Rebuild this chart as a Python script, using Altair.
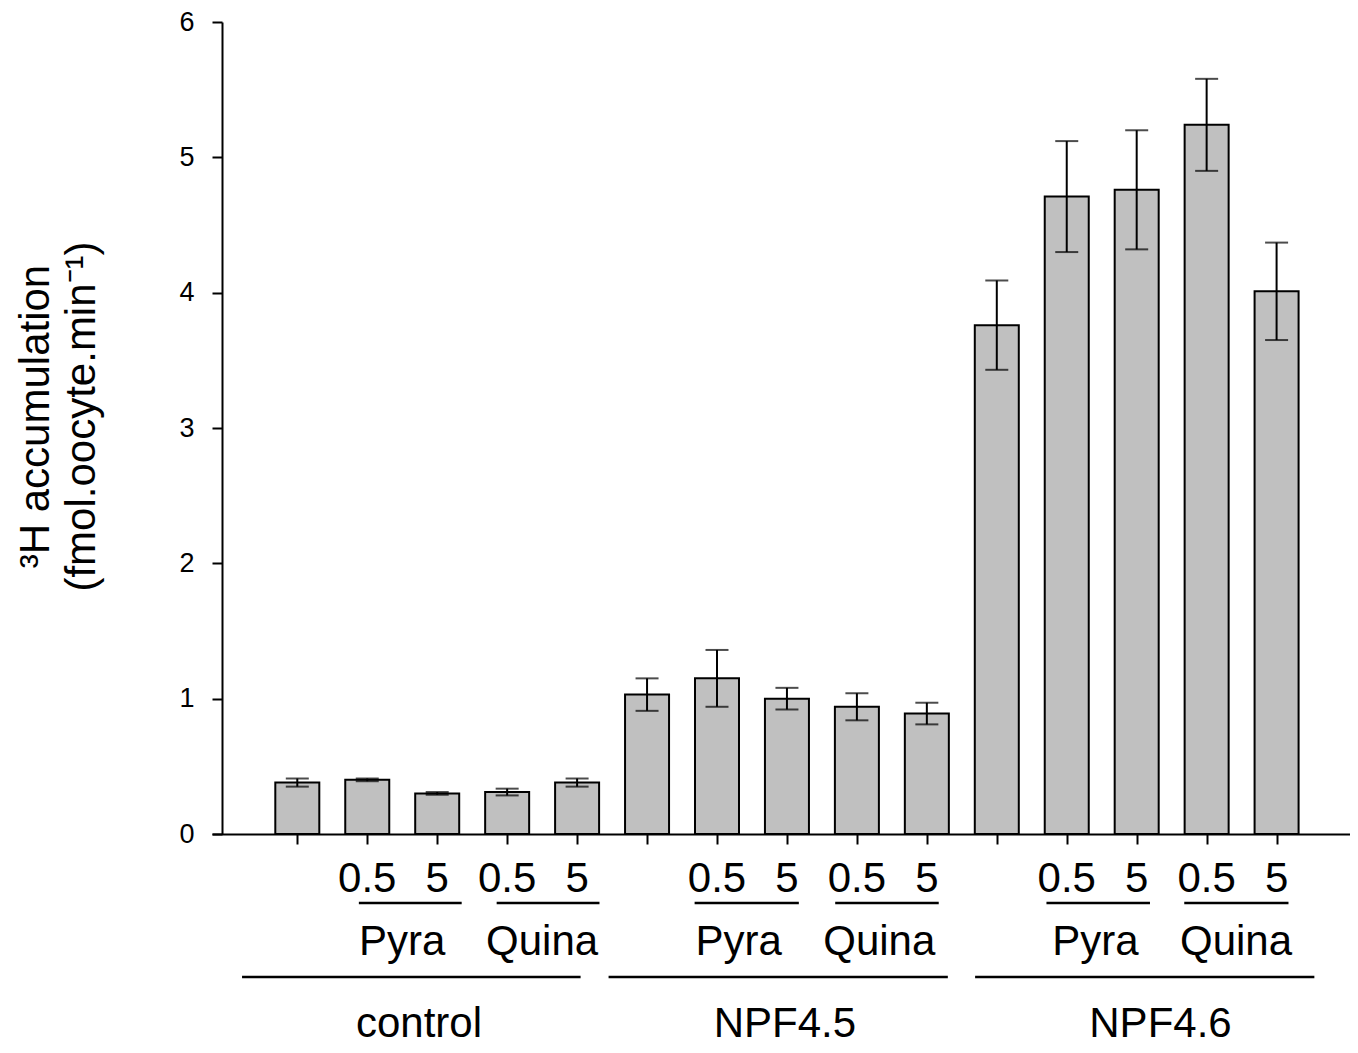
import altair as alt
import pandas as pd

# ---- data ----
positions = list(range(1, 16))
values = [0.38, 0.40, 0.30, 0.31, 0.38,
          1.03, 1.15, 1.00, 0.94, 0.89,
          3.76, 4.71, 4.76, 5.24, 4.01]
errors = [0.03, 0.01, 0.01, 0.025, 0.03,
          0.12, 0.21, 0.08, 0.10, 0.08,
          0.33, 0.41, 0.44, 0.34, 0.36]
conc_labels = ["", "0.5", "5", "0.5", "5",
               "", "0.5", "5", "0.5", "5",
               "", "0.5", "5", "0.5", "5"]

drug_names = ["Pyra", "Quina", "Pyra", "Quina", "Pyra", "Quina"]
drug_label_x = [2.50, 4.50, 7.31, 9.32, 12.41, 14.42]
drug_line_start = [1.88, 3.85, 6.68, 8.69, 11.71, 13.68]
drug_line_end = [3.35, 5.32, 8.17, 10.17, 13.19, 15.17]

group_names = ["control", "NPF4.5", "NPF4.6"]
group_label_x = [2.74, 7.97, 13.34]
group_line_start = [0.21, 5.45, 10.69]
group_line_end = [5.05, 10.30, 15.54]

y_ticks = [0, 1, 2, 3, 4, 5, 6]

FONT = "Liberation Sans"

bars_df = pd.DataFrame({
    "pos": positions,
    "value": values,
    "lo": [v - e for v, e in zip(values, errors)],
    "hi": [v + e for v, e in zip(values, errors)],
    "conc": conc_labels,
})
caps_df = pd.concat([
    bars_df[["pos", "lo"]].rename(columns={"lo": "cap"}),
    bars_df[["pos", "hi"]].rename(columns={"hi": "cap"}),
])
drug_df = pd.DataFrame({"name": drug_names, "x": drug_label_x,
                        "start": drug_line_start, "end": drug_line_end})
group_df = pd.DataFrame({"name": group_names, "x": group_label_x,
                         "start": group_line_start, "end": group_line_end})

xs = alt.Scale(domain=[-0.148, 15.978], nice=False, zero=False)
ys = alt.Scale(domain=[0, 6], nice=False)

xaxis = alt.Axis(values=positions, labels=False, tickSize=10, tickWidth=2,
                 tickColor="black", domainColor="black", domainWidth=2,
                 grid=False, title=None)
yaxis = alt.Axis(values=y_ticks, tickSize=10, tickWidth=2, tickColor="black",
                 domainColor="black", domainWidth=2, grid=False, offset=-10,
                 labelFont=FONT, labelFontSize=27, labelColor="black",
                 labelPadding=18,
                 title=["\u00b3H accumulation", "(fmol.oocyte.min\u207b\u00b9)"],
                 titleFont=FONT, titleFontSize=42, titleFontWeight="normal",
                 titleColor="black", titleLineHeight=46,
                 titleX=-165, titleY=394, titleAngle=270,
                 titleAlign="center", titleBaseline="bottom")

bars = alt.Chart(bars_df).mark_bar(size=44, fill="#c0c0c0", stroke="black",
                                   strokeWidth=2).encode(
    x=alt.X("pos:Q", scale=xs, axis=xaxis),
    y=alt.Y("value:Q", scale=ys, axis=yaxis),
)
err = alt.Chart(bars_df).mark_rule(color="black", strokeWidth=2).encode(
    x=alt.X("pos:Q", scale=xs, axis=xaxis),
    y=alt.Y("lo:Q", scale=ys, axis=yaxis),
    y2="hi:Q",
)
caps = alt.Chart(caps_df).mark_tick(orient="horizontal", size=23, thickness=2,
                                    color="black").encode(
    x=alt.X("pos:Q", scale=xs, axis=xaxis),
    y=alt.Y("cap:Q", scale=ys, axis=yaxis),
)

conc_text = alt.Chart(bars_df).mark_text(font=FONT, fontSize=42, color="black",
                                         align="center", baseline="alphabetic").encode(
    x=alt.X("pos:Q", scale=xs, axis=xaxis),
    y=alt.value(870),
    text="conc:N",
)
drug_lines = alt.Chart(drug_df).mark_rule(color="black", strokeWidth=2.5).encode(
    x=alt.X("start:Q", scale=xs, axis=xaxis),
    x2="end:Q",
    y=alt.value(881),
)
drug_text = alt.Chart(drug_df).mark_text(font=FONT, fontSize=42, color="black",
                                         align="center", baseline="alphabetic").encode(
    x=alt.X("x:Q", scale=xs, axis=xaxis),
    y=alt.value(933),
    text="name:N",
)
group_lines = alt.Chart(group_df).mark_rule(color="black", strokeWidth=2.5).encode(
    x=alt.X("start:Q", scale=xs, axis=xaxis),
    x2="end:Q",
    y=alt.value(955),
)
group_text = alt.Chart(group_df).mark_text(font=FONT, fontSize=42, color="black",
                                           align="center", baseline="alphabetic").encode(
    x=alt.X("x:Q", scale=xs, axis=xaxis),
    y=alt.value(1015),
    text="name:N",
)

chart = alt.layer(
    bars, err, caps, conc_text, drug_lines, drug_text, group_lines, group_text
).properties(
    width=1138,
    height=812,
    autosize=alt.AutoSizeParams(type="none"),
    padding={"left": 204, "top": 14, "right": 0, "bottom": 214},
    background="white",
).configure_view(stroke=None)

chart.save("out.html", embed_options={"renderer": "svg", "actions": False})
